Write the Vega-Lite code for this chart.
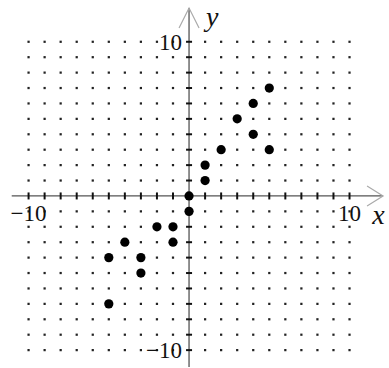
{
  "$schema": "https://vega.github.io/schema/vega-lite/v6.json",
  "width": 389,
  "height": 368,
  "autosize": {"type": "fit", "contains": "padding"},
  "padding": 0,
  "background": "white",
  "config": {"view": {"stroke": null}},
  "datasets": {
    "grid": [{"xs": [-10,-9,-8,-7,-6,-5,-4,-3,-2,-1,0,1,2,3,4,5,6,7,8,9,10], "ys": [-10,-9,-8,-7,-6,-5,-4,-3,-2,-1,0,1,2,3,4,5,6,7,8,9,10]}],
    "axes": [
      {"x1": -11.05, "x2": 12.09, "y1": 0, "y2": 0},
      {"x1": 0, "x2": 0, "y1": -11.1, "y2": 12.19}
    ],
    "arrows": [
      {"ax": 0, "ay": 12.19, "dir": "up"},
      {"ax": 12.09, "ay": 0, "dir": "right"}
    ],
    "pts": [
      {"x": 5, "y": 7}, {"x": 4, "y": 6}, {"x": 3, "y": 5}, {"x": 4, "y": 4},
      {"x": 2, "y": 3}, {"x": 5, "y": 3}, {"x": 1, "y": 2}, {"x": 1, "y": 1},
      {"x": 0, "y": 0}, {"x": 0, "y": -1}, {"x": -2, "y": -2}, {"x": -1, "y": -2},
      {"x": -1, "y": -3}, {"x": -4, "y": -3}, {"x": -5, "y": -4}, {"x": -3, "y": -4},
      {"x": -3, "y": -5}, {"x": -5, "y": -7}
    ],
    "xlabels": [{"t": "−10", "x": -10, "y": 0}, {"t": "10", "x": 10, "y": 0}],
    "ylabels": [{"t": "10", "x": 0, "y": 10}, {"t": "−10", "x": 0, "y": -10}],
    "names": [{"t": "x", "x": 11.8, "y": -1.3}, {"t": "y", "x": 1.45, "y": 11.55}]
  },
  "resolve": {"scale": {"x": "shared", "y": "shared"}},
  "layer": [
    {
      "data": {"name": "grid"},
      "transform": [{"flatten": ["xs"]}, {"flatten": ["ys"]}, {"filter": "datum.xs != 0 && datum.ys != 0"}],
      "mark": {"type": "point", "shape": "square", "filled": true, "size": 5, "color": "#222", "opacity": 1},
      "encoding": {
        "x": {"field": "xs", "type": "quantitative", "scale": {"domain": [-11.78, 12.46], "nice": false, "zero": false}, "axis": null},
        "y": {"field": "ys", "type": "quantitative", "scale": {"domain": [-11.03, 12.71], "nice": false, "zero": false}, "axis": null}
      }
    },
    {
      "data": {"name": "axes"},
      "mark": {"type": "rule", "color": "#555", "strokeWidth": 1.3},
      "encoding": {
        "x": {"field": "x1", "type": "quantitative"},
        "x2": {"field": "x2"},
        "y": {"field": "y1", "type": "quantitative"},
        "y2": {"field": "y2"}
      }
    },
    {
      "data": {"name": "grid"},
      "transform": [{"flatten": ["xs"]}, {"flatten": ["ys"]}, {"filter": "datum.ys == 0 && datum.xs != 0"}],
      "mark": {"type": "point", "shape": "M 0 -1 L 0 1", "filled": false, "size": 49, "stroke": "#111", "strokeWidth": 2, "opacity": 1},
      "encoding": {
        "x": {"field": "xs", "type": "quantitative"},
        "y": {"field": "ys", "type": "quantitative"}
      }
    },
    {
      "data": {"name": "grid"},
      "transform": [{"flatten": ["xs"]}, {"flatten": ["ys"]}, {"filter": "datum.xs == 0 && datum.ys != 0"}],
      "mark": {"type": "point", "shape": "M -1 0 L 1 0", "filled": false, "size": 36, "stroke": "#111", "strokeWidth": 2, "opacity": 1},
      "encoding": {
        "x": {"field": "xs", "type": "quantitative"},
        "y": {"field": "ys", "type": "quantitative"}
      }
    },
    {
      "data": {"name": "arrows"},
      "transform": [{"filter": "datum.dir == 'up'"}],
      "mark": {"type": "point", "shape": "M -2 4 L 0 0 L 2 4", "filled": false, "size": 100, "stroke": "#aaa", "strokeWidth": 1.2, "opacity": 1},
      "encoding": {
        "x": {"field": "ax", "type": "quantitative"},
        "y": {"field": "ay", "type": "quantitative"}
      }
    },
    {
      "data": {"name": "arrows"},
      "transform": [{"filter": "datum.dir == 'right'"}],
      "mark": {"type": "point", "shape": "M -3.2 -2 L 0 0 L -3.2 2", "filled": false, "size": 100, "stroke": "#aaa", "strokeWidth": 1.2, "opacity": 1},
      "encoding": {
        "x": {"field": "ax", "type": "quantitative"},
        "y": {"field": "ay", "type": "quantitative"}
      }
    },
    {
      "data": {"name": "pts"},
      "mark": {"type": "circle", "size": 85, "color": "black", "opacity": 1},
      "encoding": {
        "x": {"field": "x", "type": "quantitative"},
        "y": {"field": "y", "type": "quantitative"}
      }
    },
    {
      "data": {"name": "xlabels"},
      "mark": {"type": "text", "font": "Liberation Serif", "fontSize": 23, "dy": 18, "align": "center", "baseline": "middle", "color": "#111"},
      "encoding": {
        "x": {"field": "x", "type": "quantitative"},
        "y": {"field": "y", "type": "quantitative"},
        "text": {"field": "t"}
      }
    },
    {
      "data": {"name": "ylabels"},
      "mark": {"type": "text", "font": "Liberation Serif", "fontSize": 23, "dx": -7, "dy": 1, "align": "right", "baseline": "middle", "color": "#111"},
      "encoding": {
        "x": {"field": "x", "type": "quantitative"},
        "y": {"field": "y", "type": "quantitative"},
        "text": {"field": "t"}
      }
    },
    {
      "data": {"name": "names"},
      "mark": {"type": "text", "font": "Liberation Serif", "fontStyle": "italic", "fontSize": 28, "align": "center", "baseline": "middle", "color": "#111"},
      "encoding": {
        "x": {"field": "x", "type": "quantitative"},
        "y": {"field": "y", "type": "quantitative"},
        "text": {"field": "t"}
      }
    }
  ]
}
